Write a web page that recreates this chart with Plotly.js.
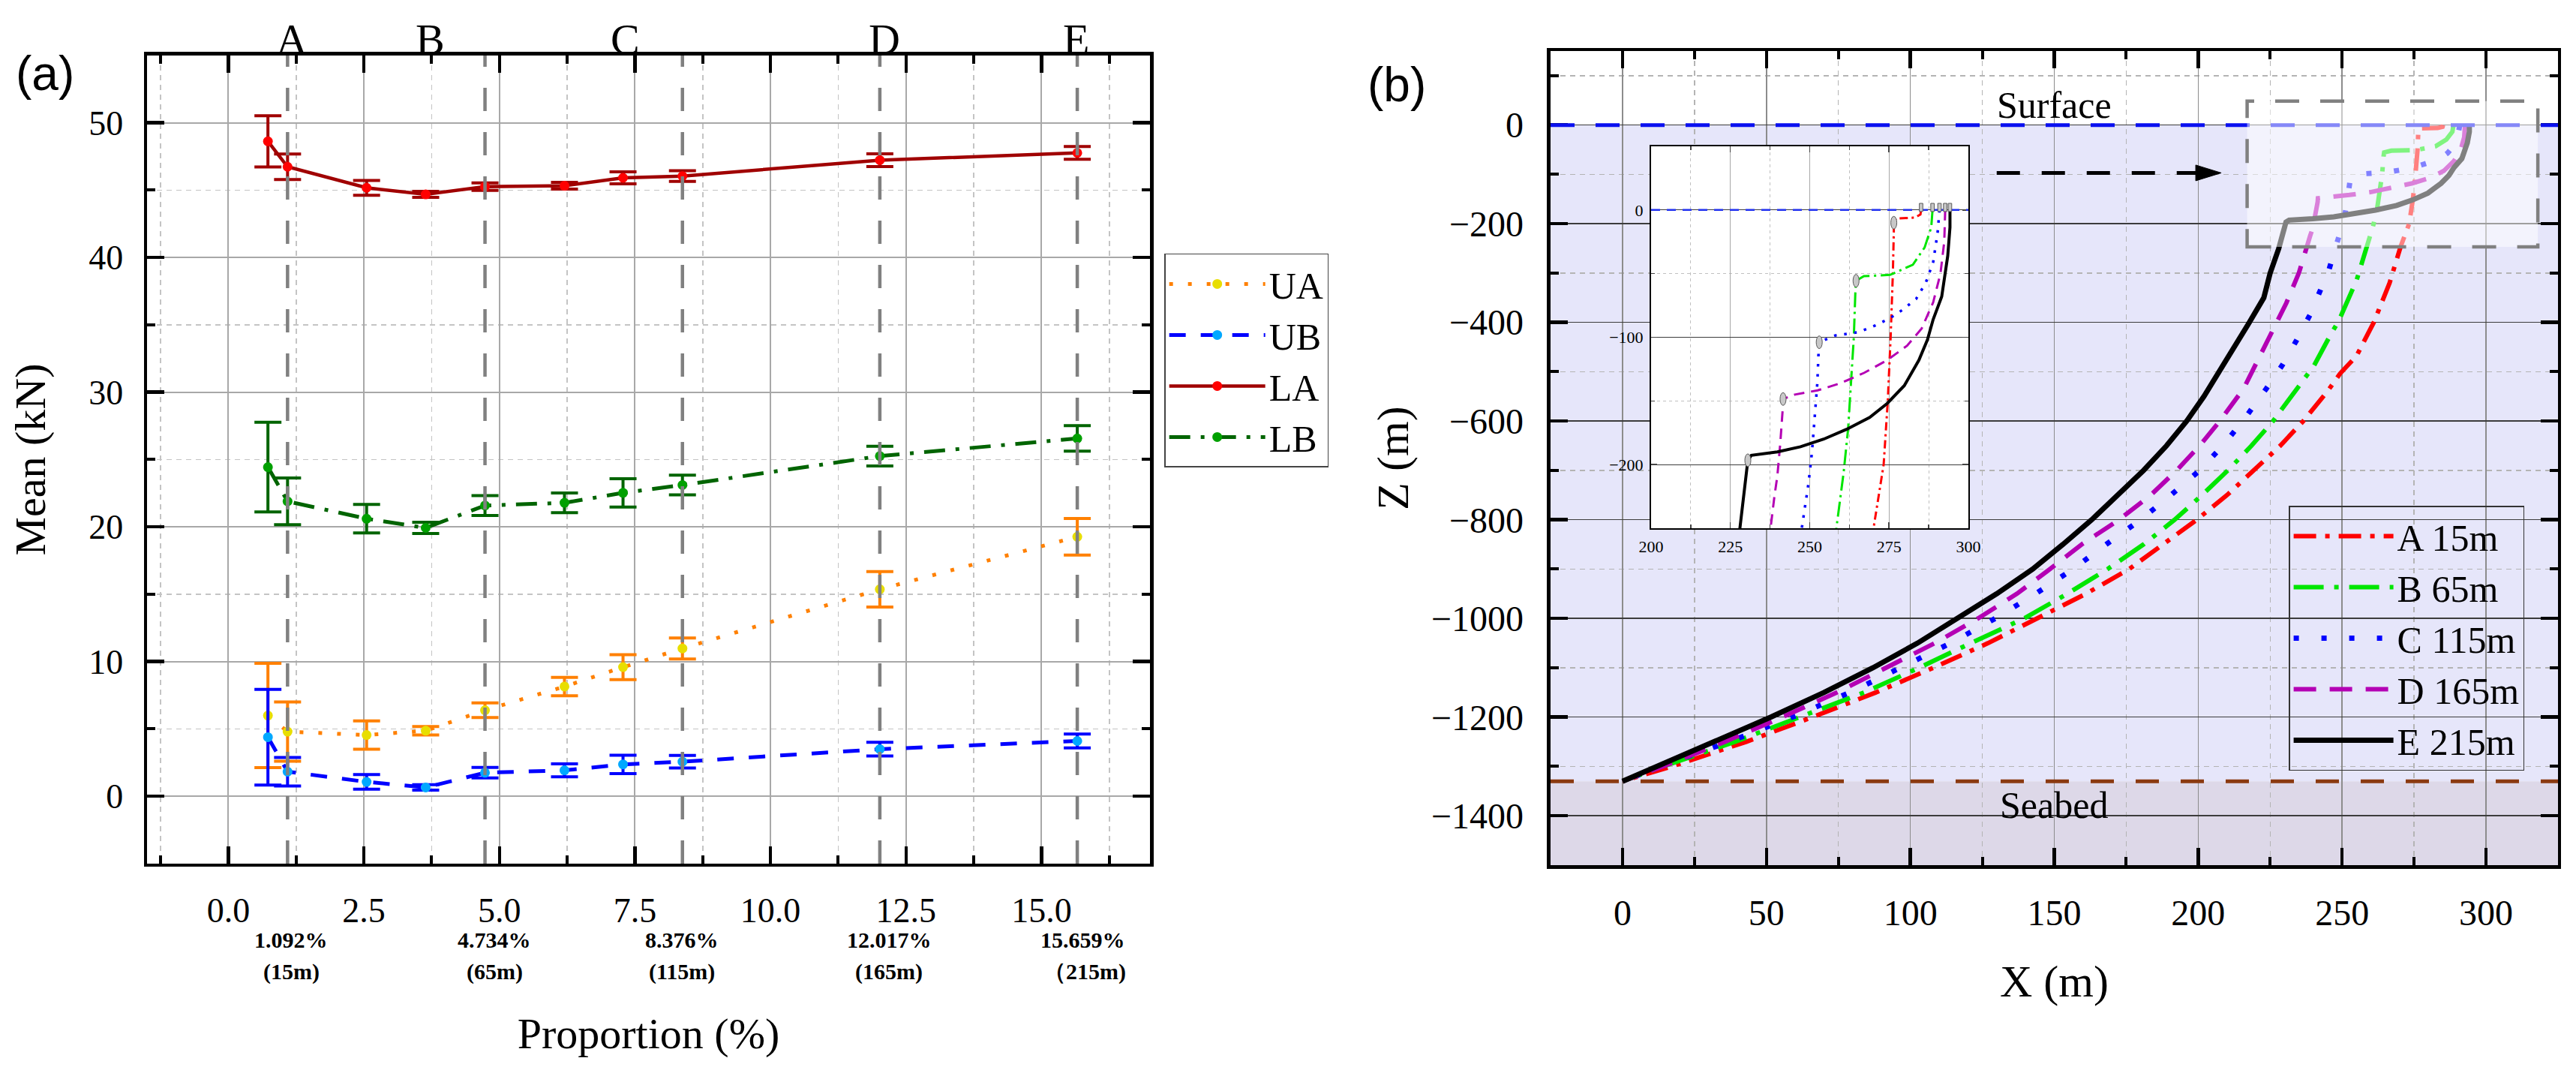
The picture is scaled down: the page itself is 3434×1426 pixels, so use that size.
<!DOCTYPE html>
<html><head><meta charset="utf-8">
<script src="https://cdn.plot.ly/plotly-3.0.1.min.js"></script>
<style>html,body{margin:0;padding:0;background:#fff;}#chart{width:3434px;height:1426px;}</style>
</head><body><div id="chart"></div>
<script>
const SERIF = 'Liberation Serif, "Times New Roman", serif';
const SANS = 'Liberation Sans, Arial, sans-serif';

// ---------- Panel (a) data ----------
const proportion = [0.73, 1.092, 2.55, 3.64, 4.734, 6.2, 7.28, 8.376, 12.017, 15.659];
const UA_mean = [6.0, 4.8, 4.55, 4.87, 6.39, 8.15, 9.59, 10.98, 15.37, 19.27];
const UA_err  = [3.87, 2.2, 1.05, 0.31, 0.54, 0.68, 0.93, 0.78, 1.32, 1.36];
const UB_mean = [4.39, 1.83, 1.07, 0.66, 1.75, 1.93, 2.37, 2.57, 3.5, 4.11];
const UB_err  = [3.55, 1.06, 0.54, 0.2, 0.39, 0.48, 0.68, 0.47, 0.51, 0.52];
const LA_mean = [48.63, 46.74, 45.18, 44.69, 45.27, 45.33, 45.92, 46.05, 47.23, 47.77];
const LA_err  = [1.9, 0.95, 0.55, 0.22, 0.28, 0.25, 0.44, 0.4, 0.47, 0.47];
const LB_mean = [24.44, 21.9, 20.61, 19.93, 21.59, 21.79, 22.53, 23.11, 25.26, 26.57];
const LB_err  = [3.33, 1.73, 1.06, 0.42, 0.74, 0.73, 1.05, 0.73, 0.73, 0.95];

const caseProportion = [1.092, 4.734, 8.376, 12.017, 15.659];
const caseLetters = ['A', 'B', 'C', 'D', 'E'];
const casePctLabels = ['1.092%', '4.734%', '8.376%', '12.017%', '15.659%'];
const caseDepthLabels = ['(15m)', '(65m)', '(115m)', '(165m)', '（215m)'];

// ---------- Panel (b) data ----------
const A_x = [285.1, 284.9, 283.2, 280.0, 277.2, 276.5, 276.5, 276.2, 275.5, 274.6, 273.3, 270.3, 266.5, 261.0, 255.0, 249.3, 245.0, 236.5, 228.5, 219.5, 210.0, 199.5, 188.0, 176.0, 161.0, 144.0, 127.0, 108.0, 88.0, 66.0, 43.0, 17.0, 0];
const A_z = [0, -3.5, -6, -6.5, -6.8, -10, -17, -50, -100, -150, -200, -247, -320, -400, -468, -503.6, -539, -600, -650, -700, -750, -800, -850, -900, -950, -1000, -1050, -1100, -1150, -1200, -1250, -1300, -1330];
const B_x = [288.7, 288.3, 286.2, 282.5, 275.3, 267.1, 264.6, 264.4, 263.9, 263.0, 262.1, 260.7, 258.7, 256.7, 255.0, 248.9, 245.8, 240.2, 234.5, 226.0, 218.5, 210.3, 201.3, 191.8, 181.0, 168.5, 154.5, 139.5, 121.0, 103.0, 84.0, 62.0, 39.0, 14.0, 0];
const B_z = [0, -13.6, -29.5, -43, -51, -52, -55.6, -63.5, -100, -136, -172, -206, -245, -279, -315, -396, -427, -488, -534, -600, -650, -700, -750, -800, -850, -900, -950, -1000, -1050, -1100, -1150, -1200, -1250, -1300, -1330];
const C_x = [290.9, 290.3, 288.9, 286.6, 283.5, 278.9, 275.3, 270.7, 265.3, 258.0, 253.0, 252.8, 252.4, 251.6, 250.7, 249.6, 247.8, 245.4, 241.9, 238.9, 234.1, 229.3, 223.7, 215.5, 208.5, 200.5, 190.5, 180.0, 168.0, 156.5, 143.5, 129.5, 114.0, 97.0, 79.0, 59.0, 37.0, 13.0, 0];
const C_z = [0, -18, -41, -57, -70, -79, -85, -90.7, -96, -98.6, -103.9, -111, -136, -161, -190.5, -215, -247, -294, -343, -384, -437, -486, -534, -600, -650, -700, -750, -800, -850, -900, -950, -1000, -1050, -1100, -1150, -1200, -1250, -1300, -1330];
const D_x = [292.7, 292.4, 291.2, 288.9, 285.3, 280.7, 274.4, 267.1, 259.8, 252.5, 245.3, 241.6, 241.5, 240.7, 239.8, 238.9, 237.8, 235.0, 230.6, 223.7, 215.8, 207.5, 200.5, 192.5, 183.5, 172.5, 159.5, 148.5, 137.0, 123.5, 108.5, 91.5, 74.5, 55.5, 35.5, 14.0, 0];
const D_z = [0, -25, -50, -72.6, -93, -106.6, -118, -128, -136, -141.7, -145, -148.5, -156, -184, -209, -224.5, -247, -299.5, -361, -442, -534, -600, -650, -700, -750, -800, -850, -900, -950, -1000, -1050, -1100, -1150, -1200, -1250, -1300, -1330];
const E_x = [294.2, 294.2, 293.5, 291.6, 288.9, 287.1, 284.4, 279.8, 274.4, 268.9, 261.6, 254.4, 247.1, 239.8, 231.6, 230.5, 228.0, 225.0, 222.8, 217.6, 212.5, 207.5, 202.0, 196.0, 189.0, 181.0, 163.0, 153.0, 142.5, 130.0, 116.5, 102.5, 87.0, 70.0, 51.5, 32.0, 12.0, 0];
const E_z = [0, -13.6, -36, -68, -86, -102, -118, -138, -152, -163, -172.3, -180, -186, -190, -192.7, -196.6, -250, -300, -350, -401.5, -450, -500, -550, -600, -650, -700, -800, -850, -900, -950, -1000, -1050, -1100, -1150, -1200, -1250, -1300, -1330];

const curveNames = ['A 15m', 'B 65m', 'C 115m', 'D 165m', 'E 215m'];
const surfaceFloatX = [285.1, 288.7, 290.9, 292.7, 294.2];
const buoyX = [276.5, 264.6, 253.0, 241.6, 230.5];
const buoyZ = [-10, -55.6, -103.9, -148.5, -196.6];
const seabedZ = -1330;
const surfaceZ = 0;

// ---------- styles ----------
const curveX = [A_x, B_x, C_x, D_x, E_x];
const curveZ = [A_z, B_z, C_z, D_z, E_z];
const curveColor = ['#FF0000', '#00E600', '#0000FF', '#B400B4', '#000000'];
const mainDash = ['30px,12px,6px,12px', '40px,14px,6px,14px', '7px,30px', '30px,18px', 'solid'];
const mainWidth = [6, 6, 7, 6, 7];
const insetDash = ['11px,5px,3px,5px', '20px,6px,3px,6px', '3.5px,10px', '14px,9px', 'solid'];
const insetWidth = [3, 3, 3.5, 3, 4];

const traces = [];
function seriesTrace(name, y, err, lineColor, markerColor, dash, width) {
  return {
    x: proportion, y: y, name: name, type: 'scatter', mode: 'lines+markers',
    xaxis: 'x', yaxis: 'y', legend: 'legend',
    line: {color: lineColor, width: width, dash: dash},
    marker: {color: markerColor, size: 13, symbol: 'circle'},
    error_y: {type: 'data', array: err, visible: true, color: lineColor, thickness: 4, width: 18}
  };
}
traces.push(seriesTrace('UA', UA_mean, UA_err, '#FF8000', '#E8DE00', '5px,20px', 5));
traces.push(seriesTrace('UB', UB_mean, UB_err, '#0000FF', '#00A8FF', '22px,20px', 5));
traces.push(seriesTrace('LA', LA_mean, LA_err, '#A00000', '#FF0000', 'solid', 4.5));
traces.push(seriesTrace('LB', LB_mean, LB_err, '#006400', '#00A000', '28px,14px,5px,14px', 5));

for (let i = 0; i < 5; i++) {
  traces.push({x: curveX[i], y: curveZ[i], name: curveNames[i], type: 'scatter', mode: 'lines',
    xaxis: 'x2', yaxis: 'y2', legend: 'legend2',
    line: {color: curveColor[i], width: mainWidth[i], dash: mainDash[i]}});
}
for (let i = 0; i < 5; i++) {
  traces.push({x: curveX[i], y: curveZ[i], name: curveNames[i], type: 'scatter', mode: 'lines',
    xaxis: 'x3', yaxis: 'y3', showlegend: false,
    line: {color: curveColor[i], width: insetWidth[i], dash: insetDash[i]}});
}

// ---------- shapes ----------
const shapes = [];
caseProportion.forEach(p => shapes.push({type: 'line', xref: 'x', yref: 'y domain', x0: p, x1: p, y0: 0, y1: 1,
  line: {color: '#808080', width: 4.5, dash: '31px,28px'}, layer: 'above'}));
shapes.push({type: 'rect', xref: 'x2 domain', yref: 'y2', x0: 0, x1: 1, y0: seabedZ, y1: surfaceZ,
  fillcolor: '#E6E6FA', line: {width: 0}, layer: 'below'});
shapes.push({type: 'rect', xref: 'x2 domain', yref: 'y2', x0: 0, x1: 1, y0: -1500, y1: seabedZ,
  fillcolor: '#DDD8E8', line: {width: 0}, layer: 'below'});
shapes.push({type: 'line', xref: 'x2 domain', yref: 'y2', x0: 0, x1: 1, y0: surfaceZ, y1: surfaceZ,
  line: {color: '#0A10F0', width: 5, dash: '32px,28px'}, layer: 'above'});
shapes.push({type: 'line', xref: 'x2 domain', yref: 'y2', x0: 0, x1: 1, y0: seabedZ, y1: seabedZ,
  line: {color: '#8B3A10', width: 5, dash: '31px,29px'}, layer: 'above'});
shapes.push({type: 'rect', xref: 'x2', yref: 'y2', x0: 217, x1: 318, y0: -247, y1: 48.5,
  fillcolor: 'rgba(255,255,255,0.5)', line: {color: '#808080', width: 4.5, dash: '32px,28px'}, layer: 'above'});
shapes.push({type: 'line', xref: 'x2', yref: 'y2', x0: 130, x1: 199.2, y0: -97, y1: -97,
  line: {color: '#000000', width: 5, dash: '31px,29px'}, layer: 'above'});
shapes.push({type: 'path', xref: 'x2', yref: 'y2', xsizemode: 'pixel', ysizemode: 'pixel', xanchor: 208, yanchor: -97,
  path: 'M-34,-10.5 L0,0 L-34,10.5 Z', fillcolor: '#000000', line: {color: '#000000', width: 1}, layer: 'above'});
shapes.push({type: 'rect', xref: 'x3 domain', yref: 'y3', x0: 0, x1: 1, y0: -250, y1: surfaceZ,
  fillcolor: '#E6E6FA', line: {width: 0}, layer: 'below'});
shapes.push({type: 'line', xref: 'x3 domain', yref: 'y3', x0: 0, x1: 1, y0: surfaceZ, y1: surfaceZ,
  line: {color: '#2030F0', width: 2.5, dash: '12px,9px'}, layer: 'above'});
surfaceFloatX.forEach(sx => shapes.push({type: 'rect', xref: 'x3', yref: 'y3', x0: sx - 0.55, x1: sx + 0.55, y0: -1.2, y1: 5.2,
  fillcolor: '#C8C8C8', line: {color: '#5a5a5a', width: 1}, layer: 'above'}));
buoyX.forEach((bx, i) => shapes.push({type: 'circle', xref: 'x3', yref: 'y3', x0: bx - 0.95, x1: bx + 0.95, y0: buoyZ[i] - 5, y1: buoyZ[i] + 5,
  fillcolor: '#C8C8C8', line: {color: '#5a5a5a', width: 1}, layer: 'above'}));

// ---------- annotations ----------
const annotations = [];
annotations.push({text: '(a)', xref: 'paper', yref: 'paper', x: 0.0175, y: 0.9313, showarrow: false,
  font: {family: SANS, size: 64, color: '#000'}, xanchor: 'center', yanchor: 'middle'});
annotations.push({text: '(b)', xref: 'paper', yref: 'paper', x: 0.5422, y: 0.9208, showarrow: false,
  font: {family: SANS, size: 64, color: '#000'}, xanchor: 'center', yanchor: 'middle'});
const letterX = [1.17, 3.73, 7.32, 12.10, 15.64];
caseLetters.forEach((t, i) => annotations.push({text: t, xref: 'x', yref: 'paper', x: letterX[i], y: 0.9635,
  showarrow: false, font: {family: SERIF, size: 58, color: '#000'}, xanchor: 'center', yanchor: 'middle'}));
const pctX = [1.16, 4.90, 8.36, 12.19, 15.76];
const depthX = [1.17, 4.91, 8.37, 12.19, 15.80];
casePctLabels.forEach((t, i) => annotations.push({text: '<b>' + t + '</b>', xref: 'x', yref: 'paper', x: pctX[i], y: 0.1220,
  showarrow: false, font: {family: SERIF, size: 30, color: '#000'}, xanchor: 'center', yanchor: 'middle'}));
caseDepthLabels.forEach((t, i) => annotations.push({text: '<b>' + t + '</b>', xref: 'x', yref: 'paper', x: depthX[i], y: 0.0919,
  showarrow: false, font: {family: SERIF, size: 30, color: '#000'}, xanchor: 'center', yanchor: 'middle'}));
annotations.push({text: 'Surface', xref: 'x2', yref: 'y2', x: 150, y: 40, showarrow: false,
  font: {family: SERIF, size: 50, color: '#000'}, xanchor: 'center', yanchor: 'middle'});
annotations.push({text: 'Seabed', xref: 'x2', yref: 'y2', x: 150, y: -1378, showarrow: false,
  font: {family: SERIF, size: 50, color: '#000'}, xanchor: 'center', yanchor: 'middle'});

// ---------- axes ----------
function frameAxis(o) {
  return Object.assign({
    showline: true, linecolor: '#000', linewidth: 4.5, mirror: 'ticks',
    ticks: 'inside', ticklen: 23, tickwidth: 4.5, tickcolor: '#000',
    zeroline: false, automargin: false, showgrid: true,
    tickfont: {family: SERIF, size: 46, color: '#000'}
  }, o);
}

const layout = {
  width: 3434, height: 1426, autosize: false,
  margin: {l: 0, r: 0, t: 0, b: 0, pad: 0},
  paper_bgcolor: '#fff', plot_bgcolor: '#fff',
  font: {family: SERIF, color: '#000'},
  showlegend: true,
  xaxis: frameAxis({domain: [0.05708, 0.44642], range: [-1.5, 17], anchor: 'y',
    dtick: 2.5, tick0: 0, tickformat: '.1f', ticklabelstandoff: 18,
    gridcolor: '#A8A8A8', gridwidth: 2,
    minor: {dtick: 1.25, ticks: 'inside', ticklen: 11, tickwidth: 4, tickcolor: '#000', showgrid: true, gridcolor: '#C4C4C4', gridwidth: 1.5, griddash: '7px,6px'},
    title: {text: 'Proportion (%)', font: {family: SERIF, size: 58}, standoff: 120}}),
  yaxis: frameAxis({domain: [0.19285, 0.94811], range: [-5, 55], anchor: 'x',
    dtick: 10, tick0: 0, ticklabelstandoff: 18,
    gridcolor: '#A8A8A8', gridwidth: 2,
    minor: {dtick: 5, ticks: 'inside', ticklen: 11, tickwidth: 4, tickcolor: '#000', showgrid: true, gridcolor: '#C4C4C4', gridwidth: 1.5, griddash: '7px,6px'},
    title: {text: 'Mean (kN)', font: {family: SERIF, size: 58}, standoff: 40}}),
  xaxis2: frameAxis({domain: [0.60192, 0.99301], range: [-25, 325], anchor: 'y2',
    dtick: 50, tick0: 0, ticklabelstandoff: 18, tickfont: {family: SERIF, size: 48, color: '#000'},
    gridcolor: '#8C8C8C', gridwidth: 1.5,
    minor: {dtick: 25, ticks: 'inside', ticklen: 11, tickwidth: 4, tickcolor: '#000', showgrid: true, gridcolor: '#B4B4B4', gridwidth: 1.5, griddash: '7px,6px'},
    title: {text: 'X (m)', font: {family: SERIF, size: 60}, standoff: 45}}),
  yaxis2: frameAxis({domain: [0.19144, 0.95231], range: [-1500, 150], anchor: 'x2',
    dtick: 200, tick0: 0, ticklabelstandoff: 22, tickfont: {family: SERIF, size: 48, color: '#000'},
    gridcolor: '#3C3C3C', gridwidth: 1.5,
    minor: {dtick: 100, ticks: 'inside', ticklen: 11, tickwidth: 4, tickcolor: '#000', showgrid: true, gridcolor: '#B4B4B4', gridwidth: 1.5, griddash: '7px,6px'},
    title: {text: 'Z (m)', font: {family: SERIF, size: 60}, standoff: 12}}),
  xaxis3: {domain: [0.64094, 0.76412], range: [200, 300], anchor: 'y3',
    showline: true, linecolor: '#000', linewidth: 2, mirror: 'ticks', ticks: 'inside', ticklen: 8, tickwidth: 1.5,
    dtick: 25, tick0: 200, zeroline: false, automargin: false, ticklabelstandoff: 4,
    tickfont: {family: SERIF, size: 22, color: '#000'}, showgrid: true, gridcolor: '#A8A8A8', gridwidth: 1,
    minor: {dtick: 12.5, ticks: 'inside', ticklen: 5, tickwidth: 1.5, showgrid: true, gridcolor: '#C0C0C0', gridwidth: 1, griddash: '4px,4px'}},
  yaxis3: {domain: [0.50631, 0.86325], range: [-250, 50], anchor: 'x3',
    showline: true, linecolor: '#000', linewidth: 2, mirror: 'ticks', ticks: 'inside', ticklen: 8, tickwidth: 1.5,
    dtick: 100, tick0: 0, zeroline: false, automargin: false, ticklabelstandoff: 4,
    tickfont: {family: SERIF, size: 22, color: '#000'}, showgrid: true, gridcolor: '#3C3C3C', gridwidth: 1.2,
    minor: {dtick: 50, ticks: 'inside', ticklen: 5, tickwidth: 1.5, showgrid: true, gridcolor: '#C0C0C0', gridwidth: 1, griddash: '4px,4px'}},
  legend: {x: 0.4520, y: 0.7630, xanchor: 'left', yanchor: 'top', bgcolor: '#fff',
    bordercolor: '#444', borderwidth: 1.5, font: {family: SERIF, size: 50, color: '#000'}, itemwidth: 128, tracegroupgap: 0},
  legend2: {x: 0.8885, y: 0.2798, xanchor: 'left', yanchor: 'bottom', bgcolor: 'rgba(0,0,0,0)',
    bordercolor: '#333', borderwidth: 1.5, font: {family: SERIF, size: 50, color: '#000'}, itemwidth: 133, tracegroupgap: 0},
  shapes: shapes,
  annotations: annotations
};

Plotly.newPlot('chart', traces, layout, {displayModeBar: false, staticPlot: true});
</script>
</body></html>
